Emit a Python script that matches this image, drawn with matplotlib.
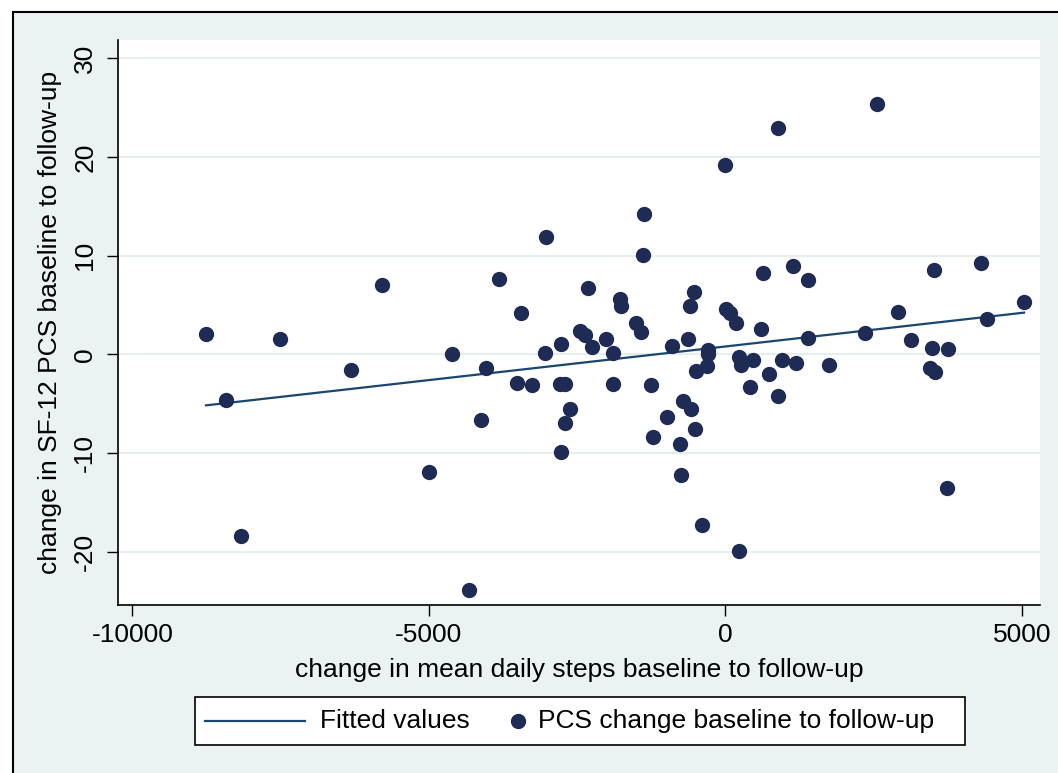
import matplotlib
matplotlib.use("Agg")
import matplotlib.pyplot as plt
from matplotlib.patches import Rectangle
from matplotlib.lines import Line2D
import numpy as np

plt.rcParams.update({
    'font.family': ['Liberation Sans', 'DejaVu Sans'],
    'font.size': 19,
})

BG = "#eaf2f3"
DOT = "#1e2b54"
LINE = "#1a476f"

# change in mean daily steps (x) and change in SF-12 PCS (y)
steps = [-8760, -8415, -8167, -7504, -6312, -5796, -4992, -4604, -4328, -4115,
         -4036, -3823, -3513, -3440, -3266, -3035, -3019, -2782, -2766, -2766,
         -2710, -2710, -2625, -2445, -2361, -2315, -2254, -2018, -1901, -1901,
         -1771, -1766, -1501, -1417, -1388, -1378, -1248, -1226, -990, -905,
         -765, -748, -714, -624, -590, -579, -528, -506, -489, -400,
         -304, -292, -292, -12, 17, 73, 180, 231, 231, 270,
         410, 467, 602, 641, 737, 882, 882, 956, 1135, 1186,
         1388, 1388, 1742, 2349, 2551, 2906, 3125, 3457, 3485, 3513,
         3541, 3738, 3749, 4312, 4407, 5037]
pcs = [2.05, -4.6, -18.45, 1.6, -1.6, 7.05, -11.9, 0.07, -23.9, -6.7,
       -1.35, 7.66, -2.9, 4.2, -3.1, 0.1, 11.9, -3.04, 1.08, -9.85,
       -3.04, -7.0, -5.57, 2.33, 1.96, 6.75, 0.74, 1.59, 0.17, -3.04,
       5.57, 4.9, 3.2, 2.3, 10.05, 14.2, -3.14, -8.4, -6.34, 0.84,
       -9.08, -12.25, -4.72, 1.59, 4.9, -5.57, 6.35, -7.56, -1.69, -17.3,
       -1.15, 0.4, 0.0, 19.2, 4.6, 4.2, 3.17, -0.3, -19.9, -1.05,
       -3.3, -0.55, 2.6, 8.27, -1.95, 22.9, -4.25, -0.55, 9.0, -0.9,
       7.5, 1.7, -1.05, 2.2, 25.4, 4.25, 1.5, -1.35, 0.6, 8.5,
       -1.78, -13.5, 0.5, 9.3, 3.6, 5.35]

x_ticks = [-10000, -5000, 0, 5000]
y_ticks = [-20, -10, 0, 10, 20, 30]
legend_labels = ["Fitted values", "PCS change baseline to follow-up"]

x = np.array(steps, dtype=float)
y = np.array(pcs, dtype=float)
slope, icpt = np.polyfit(x, y, 1)
xf = np.array([x.min(), x.max()])
yf = icpt + slope * xf

W, H = 1058, 773
fig = plt.figure(figsize=(W / 100, H / 100), dpi=100, facecolor="white")
fig.patches.append(Rectangle((13 / W, -0.1), 1.2, 1.1 - 12 / H, transform=fig.transFigure,
                             facecolor=BG, edgecolor="black", lw=1.5, zorder=0))

ax = fig.add_axes([118 / W, (H - 605) / H, (1040 - 118) / W, (605 - 40) / H])
ax.set_facecolor("white")
ax.set_zorder(1)

ax.plot(xf, yf, color=LINE, lw=1.6, zorder=3)
ax.plot(x, y, "o", ms=10, color=DOT, mec=DOT, zorder=4)

ax.set_xlim(-10243, 5305)
ax.set_ylim(-25.4, 31.85)
ax.set_xticks(x_ticks)
ax.set_yticks(y_ticks)
ax.set_xticklabels([str(v) for v in x_ticks])
ax.set_yticklabels([str(v) for v in y_ticks], rotation=90, va="center")
ax.tick_params(direction="out", length=8, width=1, pad=5)
ax.tick_params(axis="y", pad=7)
ax.yaxis.grid(True, color="#e6eef0", lw=1.5)
ax.set_axisbelow(True)
for s in ["top", "right"]:
    ax.spines[s].set_visible(False)
for s in ["left", "bottom"]:
    ax.spines[s].set_linewidth(1.2)

ax.set_xlabel("change in mean daily steps baseline to follow-up", labelpad=8)
ax.set_ylabel("change in SF-12 PCS baseline to follow-up", labelpad=8)

# Stata-style legend box, laid out by hand (pixel positions -> figure fraction)
def fx(px):
    return px / W

def fy(py):
    return 1 - py / H

fig.patches.append(Rectangle((fx(195), fy(745)), fx(965) - fx(195), fy(697) - fy(745),
                             transform=fig.transFigure, facecolor="white",
                             edgecolor="black", lw=1.2, zorder=2))
ly = fy(721)
fig.add_artist(Line2D([fx(205), fx(305)], [ly, ly], color=LINE, lw=1.6,
                      transform=fig.transFigure, zorder=5))
fig.text(fx(320), ly, legend_labels[0], va="center", ha="left", zorder=5)
fig.add_artist(Line2D([fx(518)], [ly], marker="o", ms=10, color=DOT, mec=DOT,
                      transform=fig.transFigure, zorder=5))
fig.text(fx(538), ly, legend_labels[1], va="center", ha="left", zorder=5)

fig.savefig("out.png", dpi=100, facecolor="white")
